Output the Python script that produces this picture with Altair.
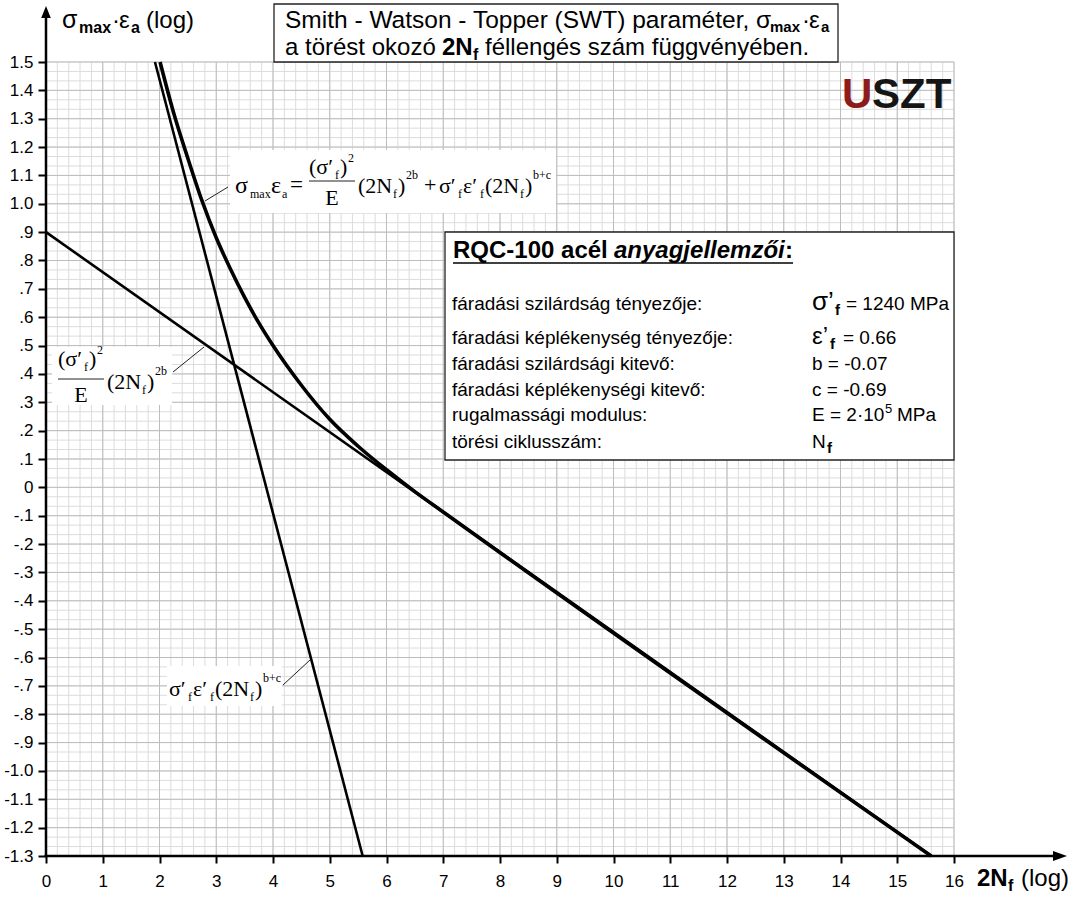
import altair as alt
import numpy as np
import pandas as pd

# ---------------- data ----------------
# x = log(2Nf), y = log(sigma_max * eps_a)
elastic_x = [0.0, 15.6]            # (sigma'f)^2 / E * (2Nf)^2b
elastic_y = [0.90, -1.30]
plastic_x = [1.92, 5.58]           # sigma'f * eps'f * (2Nf)^(b+c)
plastic_y = [1.50, -1.30]
swt_x = [2.01, 2.25, 2.5, 2.75, 3.0, 3.25, 3.5, 3.75, 4.0, 4.5, 5.0, 5.5, 6.0, 6.5, 7.0, 15.6]
swt_y = [1.50, 1.32, 1.16, 1.01, 0.88, 0.77, 0.67, 0.58, 0.50, 0.36, 0.24, 0.145, 0.062, -0.015, -0.087, -1.30]

x_ticks = list(range(0, 17))
y_ticks = [round(-1.3 + 0.1 * i, 1) for i in range(29)]

title_line1 = "Smith - Watson - Topper (SWT) paraméter, σ"
title_line2a = "a törést okozó"
title_line2b = "féllengés szám függvényében."
table_title_a = "RQC-100 acél"
table_title_b = "anyagjellemzői"
table_labels = ["fáradási szilárdság tényezője:", "fáradási képlékenység tényezője:",
                "fáradási szilárdsági kitevő:", "fáradási képlékenységi kitevő:",
                "rugalmassági modulus:", "törési ciklusszám:"]

# ---------------- layout ----------------
W, H = 908, 794
LEFT, TOP = 46, 62
X_DOM = [0, 16]
Y_DOM = [-1.3, 1.5]
SANS = "Liberation Sans"
SERIF = "Liberation Serif"


def dx(px):
    return X_DOM[0] + (px - LEFT) * (X_DOM[1] - X_DOM[0]) / W


def dy(py):
    return Y_DOM[1] - (py - TOP) * (Y_DOM[1] - Y_DOM[0]) / H


xs = alt.Scale(domain=X_DOM, nice=False, zero=False)
ys = alt.Scale(domain=Y_DOM, nice=False, zero=False)

label_expr = (
    "datum.value == 0 ? '0' : (datum.value < 0 ? '-' : '') + "
    "(abs(datum.value) >= 0.95 ? toString(floor(abs(datum.value) + 0.001)) + '.' + "
    "toString(round(abs(datum.value) * 10) % 10) : '.' + toString(round(abs(datum.value) * 10)))"
)

x_axis = alt.Axis(values=x_ticks, format="d", tickSize=7, tickWidth=2, tickColor="black",
                  domain=False, grid=False, labelFont=SANS, labelFontSize=17, labelColor="black",
                  labelPadding=10, title=None, labelFlush=False, labelOverlap=False, zindex=2)
y_axis = alt.Axis(values=y_ticks, labelExpr=label_expr, tickSize=8, tickWidth=2, tickColor="black",
                  domain=False, grid=False, labelFont=SANS, labelFontSize=17, labelColor="black",
                  labelPadding=5, title=None, labelFlush=False, labelOverlap=False, zindex=2)


def X(field):
    return alt.X(field, type="quantitative", scale=xs, axis=x_axis)


def Y(field):
    return alt.Y(field, type="quantitative", scale=ys, axis=y_axis)


# ---------------- grid ----------------
vx_minor = np.round(np.arange(0, 16.0001, 0.2), 4)
vx_major = np.arange(0, 17, 1.0)
hy_minor = np.round(-1.3 + np.arange(0, 85) / 30.0, 5)
hy_major = np.round(-1.3 + np.arange(0, 29) * 0.1, 4)

v_minor = pd.DataFrame({"x": vx_minor, "y0": -1.3, "y1": 1.5})
v_major = pd.DataFrame({"x": vx_major, "y0": -1.3, "y1": 1.5})
h_minor = pd.DataFrame({"y": hy_minor, "x0": 0.0, "x1": 16.0})
h_major = pd.DataFrame({"y": hy_major, "x0": 0.0, "x1": 16.0})

layers = []
layers.append(alt.Chart(v_minor).mark_rule(color="#dcdcdc", strokeWidth=1).encode(
    x=X("x"), y=Y("y0"), y2="y1:Q"))
layers.append(alt.Chart(h_minor).mark_rule(color="#dcdcdc", strokeWidth=1).encode(
    x=X("x0"), x2="x1:Q", y=Y("y")))
layers.append(alt.Chart(v_major).mark_rule(color="#bdbdbd", strokeWidth=1).encode(
    x=X("x"), y=Y("y0"), y2="y1:Q"))
layers.append(alt.Chart(h_major).mark_rule(color="#bdbdbd", strokeWidth=1).encode(
    x=X("x0"), x2="x1:Q", y=Y("y")))

# ---------------- boxes ----------------
framed = pd.DataFrame({
    "x0": [dx(274), dx(445)], "x1": [dx(838), dx(954)],
    "y0": [dy(62), dy(460)], "y1": [dy(4), dy(232)],
})
plain = pd.DataFrame({
    "x0": [dx(230), dx(52), dx(167)], "x1": [dx(556), dx(172), dx(282)],
    "y0": [dy(213), dy(405), dy(706)], "y1": [dy(150), dy(347), dy(666)],
})
layers.append(alt.Chart(plain).mark_rect(fill="white").encode(
    x=X("x0"), x2="x1:Q", y=Y("y0"), y2="y1:Q"))
layers.append(alt.Chart(framed).mark_rect(fill="white", stroke="#222222", strokeWidth=1.3).encode(
    x=X("x0"), x2="x1:Q", y=Y("y0"), y2="y1:Q"))

# ---------------- curves ----------------
el = pd.DataFrame({"x": elastic_x, "y": elastic_y})
pl = pd.DataFrame({"x": plastic_x, "y": plastic_y})
sw = pd.DataFrame({"x": swt_x, "y": swt_y})
layers.append(alt.Chart(el).mark_line(color="black", strokeWidth=2.6).encode(x=X("x"), y=Y("y")))
layers.append(alt.Chart(pl).mark_line(color="black", strokeWidth=2.6).encode(x=X("x"), y=Y("y")))
layers.append(alt.Chart(sw).mark_line(color="black", strokeWidth=3.6, interpolate="monotone").encode(
    x=X("x"), y=Y("y")))

# ---------------- thin lines: leaders, fraction bars, underline ----------------
segs = pd.DataFrame({
    "x": [dx(205), dx(173), dx(283), dx(309), dx(58)],
    "y": [dy(201), dy(372), dy(685), dy(181), dy(379)],
    "x2": [dx(228), dx(204), dx(310), dx(355), dx(104)],
    "y2": [dy(187), dy(347), dy(660), dy(181), dy(379)],
})
layers.append(alt.Chart(segs).mark_rule(color="#222222", strokeWidth=1).encode(
    x=X("x"), x2="x2:Q", y=Y("y"), y2="y2:Q"))
underline = pd.DataFrame({"x": [dx(453)], "x2": [dx(793)], "y": [dy(263)]})
layers.append(alt.Chart(underline).mark_rule(color="black", strokeWidth=1.6).encode(
    x=X("x"), x2="x2:Q", y=Y("y")))

# ---------------- axis lines with arrows ----------------
ax_lines = pd.DataFrame({
    "x": [0.0, dx(44.5)], "y": [-1.3, -1.3],
    "x2": [0.0, dx(1054)], "y2": [dy(18), -1.3],
})
layers.append(alt.Chart(ax_lines).mark_rule(color="black", strokeWidth=2.5).encode(
    x=X("x"), x2="x2:Q", y=Y("y"), y2="y2:Q"))
layers.append(alt.Chart(pd.DataFrame({"x": [0.0], "y": [dy(12)]})).mark_point(
    shape="M0,-1L0.8,1L-0.8,1Z", filled=True, color="black", opacity=1, size=144, strokeWidth=0).encode(
    x=X("x"), y=Y("y")))
layers.append(alt.Chart(pd.DataFrame({"x": [dx(1060)], "y": [-1.3]})).mark_point(
    shape="M1,0L-1,0.7L-1,-0.7Z", filled=True, color="black", opacity=1, size=196, strokeWidth=0).encode(
    x=X("x"), y=Y("y")))

# ---------------- text pieces ----------------
pieces = []


def piece(px, py, text, size, font=SANS, weight="normal", style="normal", color="black", align="left"):
    pieces.append(dict(x=dx(px), y=dy(py), text=text, size=size, font=font,
                       weight=weight, style=style, color=color, align=align))


# title box
piece(285, 28, title_line1, 24.5)
piece(770, 32, "max", 15, weight="bold")
piece(802, 28, "·", 24)
piece(809, 28, "ε", 24)
piece(821, 32, "a", 15, weight="bold")
piece(285, 55, title_line2a, 24)
piece(442, 55, "2N", 24, weight="bold")
piece(473, 60, "f", 16, weight="bold")
piece(485, 55, title_line2b, 24)

# y axis title
piece(62, 28, "σ", 25)
piece(79, 33, "max", 16, weight="bold")
piece(112, 28, "·", 24)
piece(119, 28, "ε", 24)
piece(131, 33, "a", 16, weight="bold")
piece(146, 28, "(log)", 24)

# x axis title
piece(977, 886, "2N", 24, weight="bold")
piece(1008, 891, "f", 16, weight="bold")
piece(1021, 886, "(log)", 24)

# logo
piece(842, 108, "U", 42, weight="bold", color="#8e1b1b")
piece(872, 108, "SZT", 42, weight="bold", color="#151515")

# material table
piece(453, 258, table_title_a, 24, weight="bold")
piece(614, 258, table_title_b, 24, weight="bold", style="italic")
piece(785, 258, ":", 24, weight="bold")
row_base = [310, 344, 370, 396, 421, 448]
for lab, yb in zip(table_labels, row_base):
    piece(452, yb, lab, 19)
piece(812, 310, "σ’", 26)
piece(835, 315, "f", 15, weight="bold")
piece(846, 310, "= 1240 MPa", 19)
piece(812, 344, "ε’", 24)
piece(830, 349, "f", 15, weight="bold")
piece(843, 344, "= 0.66", 19)
piece(812, 370, "b = -0.07", 19)
piece(812, 396, "c = -0.69", 19)
piece(812, 421, "E = 2·10", 19)
piece(885, 413, "5", 13)
piece(897, 421, "MPa", 19)
piece(812, 448, "N", 19)
piece(827, 453, "f", 15, weight="bold")

# formula 1: sum
piece(235, 193, "σ", 24, font=SERIF)
piece(250, 198, "max", 12, font=SERIF)
piece(271, 193, "ε", 24, font=SERIF)
piece(282, 198, "a", 12, font=SERIF)
piece(290, 192, "=", 23, font=SERIF)
piece(309, 174, "(σ′", 22, font=SERIF)
piece(335, 179, "f", 12, font=SERIF)
piece(340, 174, ")", 22, font=SERIF)
piece(348, 162, "2", 12, font=SERIF)
piece(332, 205, "E", 22, font=SERIF, align="center")
piece(358, 193, "(2N", 22, font=SERIF)
piece(393, 198, "f", 12, font=SERIF)
piece(398, 193, ")", 22, font=SERIF)
piece(406, 179, "2b", 12, font=SERIF)
piece(424, 192, "+", 22, font=SERIF)
piece(439, 193, "σ′", 22, font=SERIF)
piece(458, 198, "f", 12, font=SERIF)
piece(463, 193, "ε′", 22, font=SERIF)
piece(480, 198, "f", 12, font=SERIF)
piece(485, 193, "(2N", 22, font=SERIF)
piece(520, 198, "f", 12, font=SERIF)
piece(525, 193, ")", 22, font=SERIF)
piece(533, 179, "b+c", 12, font=SERIF)

# formula 2: elastic term
piece(58, 366, "(σ′", 22, font=SERIF)
piece(84, 371, "f", 12, font=SERIF)
piece(89, 366, ")", 22, font=SERIF)
piece(97, 354, "2", 12, font=SERIF)
piece(81, 402, "E", 22, font=SERIF, align="center")
piece(107, 389, "(2N", 22, font=SERIF)
piece(142, 394, "f", 12, font=SERIF)
piece(147, 389, ")", 22, font=SERIF)
piece(155, 375, "2b", 12, font=SERIF)

# formula 3: plastic term
piece(169, 696, "σ′", 22, font=SERIF)
piece(188, 701, "f", 12, font=SERIF)
piece(193, 696, "ε′", 22, font=SERIF)
piece(210, 701, "f", 12, font=SERIF)
piece(215, 696, "(2N", 22, font=SERIF)
piece(250, 701, "f", 12, font=SERIF)
piece(255, 696, ")", 22, font=SERIF)
piece(263, 682, "b+c", 12, font=SERIF)

tp = pd.DataFrame(pieces)
for (font, weight, style, align), grp in tp.groupby(["font", "weight", "style", "align"]):
    layers.append(alt.Chart(grp.reset_index(drop=True)).mark_text(
        font=font, fontWeight=weight, fontStyle=style, align=align, baseline="alphabetic").encode(
        x=X("x"), y=Y("y"),
        text="text:N", size=alt.Size("size:Q", scale=None, legend=None),
        color=alt.Color("color:N", scale=None, legend=None)))

chart = alt.layer(*layers).properties(
    width=W, height=H,
    padding={"left": LEFT, "top": TOP, "right": 1070 - LEFT - W, "bottom": 899 - TOP - H},
    autosize=alt.AutoSizeParams(type="none"),
).configure(background="white").configure_view(stroke=None)

chart.save("out.html", embed_options={"renderer": "svg", "actions": False})
